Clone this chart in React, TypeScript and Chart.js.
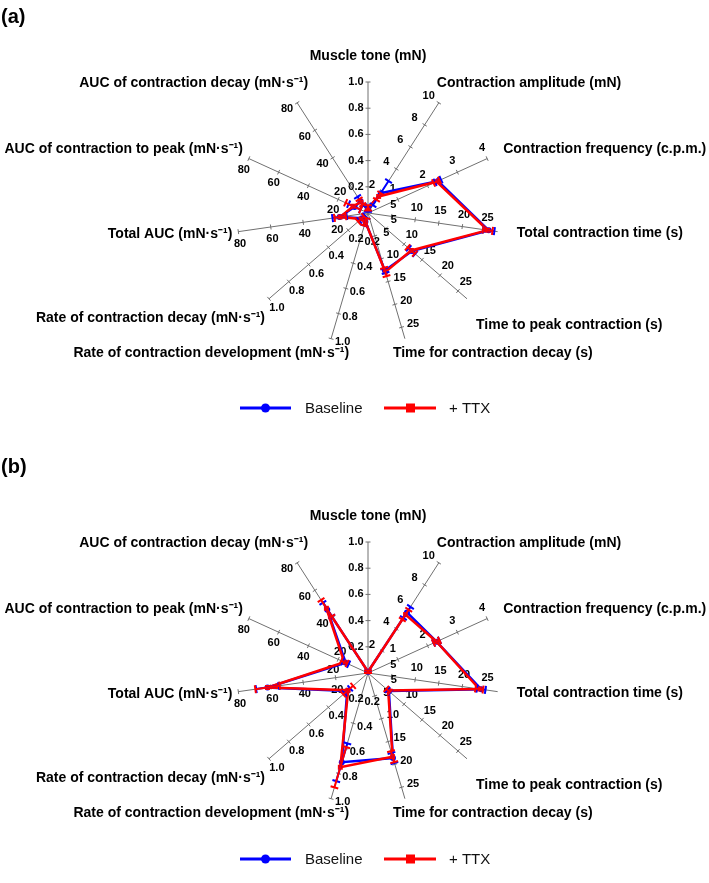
import React, { useEffect, useRef } from "react";
import { Chart, registerables } from "chart.js";

Chart.register(...registerables);

// ---------- data ----------
const axisNames = [
  "Muscle tone (mN)",
  "Contraction amplitude (mN)",
  "Contraction frequency (c.p.m.)",
  "Total contraction time (s)",
  "Time to peak contraction (s)",
  "Time for contraction decay (s)",
  "Rate of contraction development (mN·s⁻¹)",
  "Rate of contraction decay (mN·s⁻¹)",
  "Total AUC (mN·s⁻¹)",
  "AUC of contraction to peak (mN·s⁻¹)",
  "AUC of contraction decay (mN·s⁻¹)",
];
const axisMax = [1, 10, 4, 27.5, 27.5, 27.5, 1, 1, 80, 80, 80];
const tickTone = [0.2, 0.4, 0.6, 0.8, 1.0];
const tickAmp = [2, 4, 6, 8, 10];
const tickFreq = [1, 2, 3, 4];
const tickTime = [5, 10, 15, 20, 25];
const tickRate = [0.2, 0.4, 0.6, 0.8, 1.0];
const tickAuc = [20, 40, 60, 80];
const axisTicks = [tickTone, tickAmp, tickFreq, tickTime, tickTime, tickTime, tickRate, tickRate, tickAuc, tickAuc, tickAuc];
const tickDecimals = [1, 0, 0, 0, 0, 0, 1, 1, 0, 0, 0];

// panel (a)
const baselineA = [0.03, 1.8, 2.35, 25.6, 12.2, 12.6, 0.07, 0.06, 17.5, 9, 8.5];
const baselineErrA = [0.02, 1.1, 0.1, 1.2, 0.9, 0.5, 0.03, 0.03, 4.4, 4, 3.3];
const ttxA = [0.04, 1.5, 2.3, 25.4, 12.0, 12.9, 0.07, 0.07, 17.2, 10, 8];
const ttxErrA = [0.02, 0.3, 0.1, 1.0, 1.0, 0.9, 0.03, 0.03, 3.5, 5, 2];

// panel (b)
const baselineB = [0.01, 5.5, 2.3, 24.0, 5.8, 18.6, 0.71, 0.21, 62, 15, 46];
const baselineErrB = [0.01, 0.5, 0.1, 0.9, 0.4, 1.1, 0.15, 0.03, 7, 2, 5];
const ttxB = [0.01, 5.3, 2.3, 23.6, 5.6, 18.3, 0.75, 0.2, 62, 16, 47];
const ttxErrB = [0.01, 0.45, 0.1, 0.8, 0.5, 1.2, 0.16, 0.05, 7.5, 2, 6];

const seriesNames = ["Baseline", "+ TTX"];

// ---------- styling / layout ----------
const BLUE = "#0000ff";
const RED = "#ff0000";
const SPOKE = "#707070";
const FONT = "'Liberation Sans', Arial, Helvetica, sans-serif";
const RADIUS = 131;
const CX = 368;
// per-axis title placement relative to the spoke end: [dx, dy, align]
const labelOffsets: [number, number, CanvasTextAlign][] = [
  [0, -26, "center"],
  [-2, -20, "left"],
  [16, -9, "left"],
  [19, 1, "left"],
  [9, 26, "left"],
  [-12, 14, "left"],
  [18, 14, "right"],
  [-4, 19, "right"],
  [-6, 2, "right"],
  [-6, -9, "right"],
  [11, -20, "right"],
];

const norm = (arr: number[]) => arr.map((v, i) => v / axisMax[i]);

const decorPlugin = {
  id: "radarDecor",
  beforeDatasetsDraw(chart: any) {
    const scale = chart.scales.r;
    const ctx = chart.ctx;
    const cx = scale.xCenter;
    const cy = scale.yCenter;
    ctx.save();
    for (let i = 0; i < axisNames.length; i++) {
      const end = scale.getPointPositionForValue(i, 1);
      const len = Math.hypot(end.x - cx, end.y - cy);
      const ux = (end.x - cx) / len;
      const uy = (end.y - cy) / len;
      const px = uy;
      const py = -ux;
      axisTicks[i].forEach((t) => {
        const p = scale.getPointPositionForValue(i, t / axisMax[i]);
        ctx.strokeStyle = SPOKE;
        ctx.lineWidth = 1;
        ctx.beginPath();
        ctx.moveTo(p.x - px * 2.5, p.y - py * 2.5);
        ctx.lineTo(p.x + px * 2.5, p.y + py * 2.5);
        ctx.stroke();
        ctx.fillStyle = "#000";
        ctx.font = `bold 11px ${FONT}`;
        ctx.textAlign = "center";
        ctx.textBaseline = "middle";
        ctx.fillText(t.toFixed(tickDecimals[i]), p.x + px * 12, p.y + py * 12);
      });
    }
    ctx.restore();
  },
  afterDatasetsDraw(chart: any) {
    const scale = chart.scales.r;
    const ctx = chart.ctx;
    const cx = scale.xCenter;
    const cy = scale.yCenter;
    const opts = chart.options.plugins.radarDecor;
    ctx.save();
    opts.errors.forEach((set: any) => {
      ctx.strokeStyle = set.color;
      ctx.lineWidth = 2;
      set.values.forEach((v: number, i: number) => {
        const e = set.err[i];
        const lo = Math.max(0, v - e) / axisMax[i];
        const hi = (v + e) / axisMax[i];
        const p1 = scale.getPointPositionForValue(i, lo);
        const p2 = scale.getPointPositionForValue(i, hi);
        const end = scale.getPointPositionForValue(i, 1);
        const len = Math.hypot(end.x - cx, end.y - cy);
        const px = (end.y - cy) / len;
        const py = -(end.x - cx) / len;
        ctx.beginPath();
        ctx.moveTo(p1.x, p1.y);
        ctx.lineTo(p2.x, p2.y);
        [p1, p2].forEach((p: any) => {
          ctx.moveTo(p.x - px * 4, p.y - py * 4);
          ctx.lineTo(p.x + px * 4, p.y + py * 4);
        });
        ctx.stroke();
      });
    });
    ctx.restore();
  },
  afterDraw(chart: any) {
    const scale = chart.scales.r;
    const ctx = chart.ctx;
    const opts = chart.options.plugins.radarDecor;
    ctx.save();
    // axis titles
    ctx.fillStyle = "#000";
    ctx.font = `bold 14px ${FONT}`;
    ctx.textBaseline = "middle";
    axisNames.forEach((name, i) => {
      const end = scale.getPointPositionForValue(i, 1);
      const [dx, dy, align] = labelOffsets[i];
      ctx.textAlign = align;
      ctx.fillText(name, end.x + dx, end.y + dy);
    });
    // panel label
    ctx.font = `bold 20px 'Liberation Sans Narrow', ${FONT}`;
    ctx.textAlign = "left";
    ctx.fillText(opts.panelLabel, 1, opts.panelLabelY);
    // legend
    const ly = opts.legendY;
    ctx.lineWidth = 3;
    ctx.strokeStyle = BLUE;
    ctx.beginPath();
    ctx.moveTo(240, ly);
    ctx.lineTo(291, ly);
    ctx.stroke();
    ctx.fillStyle = BLUE;
    ctx.beginPath();
    ctx.arc(265.5, ly, 4.5, 0, Math.PI * 2);
    ctx.fill();
    ctx.strokeStyle = RED;
    ctx.beginPath();
    ctx.moveTo(384, ly);
    ctx.lineTo(436, ly);
    ctx.stroke();
    ctx.fillStyle = RED;
    ctx.fillRect(406, ly - 4.5, 9, 9);
    ctx.fillStyle = "#111";
    ctx.font = `15px ${FONT}`;
    ctx.textAlign = "left";
    ctx.fillText(seriesNames[0], 305, ly + 1);
    ctx.fillText(seriesNames[1], 449, ly + 1);
    ctx.restore();
  },
};

type PanelProps = {
  top: number;
  height: number;
  centerY: number;
  legendY: number;
  label: string;
  labelY: number;
  base: number[];
  baseErr: number[];
  ttx: number[];
  ttxErr: number[];
};

function RadarPanel(props: PanelProps) {
  const ref = useRef<HTMLCanvasElement | null>(null);
  useEffect(() => {
    if (!ref.current) return;
    const chart = new Chart(ref.current, {
      type: "radar",
      data: {
        labels: axisNames,
        datasets: [
          {
            label: seriesNames[0],
            data: norm(props.base),
            borderColor: BLUE,
            backgroundColor: BLUE,
            borderWidth: 2.5,
            pointStyle: "circle",
            pointRadius: 3,
            pointBackgroundColor: BLUE,
            pointBorderWidth: 0,
            fill: false,
            order: 1,
          },
          {
            label: seriesNames[1],
            data: norm(props.ttx),
            borderColor: RED,
            backgroundColor: RED,
            borderWidth: 2.5,
            pointStyle: "rect",
            pointRadius: 3.5,
            pointBackgroundColor: RED,
            pointBorderWidth: 0,
            fill: false,
            order: 0,
          },
        ],
      },
      options: {
        responsive: false,
        animation: false,
        devicePixelRatio: 1,
        layout: {
          padding: {
            left: CX - RADIUS,
            right: 709 - (CX + RADIUS),
            top: props.centerY - RADIUS,
            bottom: props.height - (props.centerY + RADIUS),
          },
        },
        elements: { line: { tension: 0 } },
        scales: {
          r: {
            min: 0,
            max: 1,
            startAngle: 0,
            ticks: { display: false },
            grid: { display: false },
            angleLines: { display: true, color: SPOKE, lineWidth: 1 },
            pointLabels: { display: false },
          },
        },
        plugins: {
          legend: { display: false },
          tooltip: { enabled: false },
          radarDecor: {
            legendY: props.legendY,
            panelLabel: props.label,
            panelLabelY: props.labelY,
            errors: [
              { color: BLUE, values: props.base, err: props.baseErr },
              { color: RED, values: props.ttx, err: props.ttxErr },
            ],
          },
        } as any,
      },
      plugins: [decorPlugin],
    });
    return () => chart.destroy();
  }, []);
  return (
    <canvas
      ref={ref}
      width={709}
      height={props.height}
      style={{ position: "absolute", left: 0, top: props.top, width: 709, height: props.height }}
    />
  );
}

export default function App() {
  return (
    <div style={{ position: "absolute", left: 0, top: 0, width: 709, height: 883, background: "#fff" }}>
      <RadarPanel
        top={0}
        height={445}
        centerY={213}
        legendY={408}
        label="(a)"
        labelY={17}
        base={baselineA}
        baseErr={baselineErrA}
        ttx={ttxA}
        ttxErr={ttxErrA}
      />
      <RadarPanel
        top={450}
        height={433}
        centerY={223}
        legendY={409}
        label="(b)"
        labelY={17}
        base={baselineB}
        baseErr={baselineErrB}
        ttx={ttxB}
        ttxErr={ttxErrB}
      />
    </div>
  );
}
